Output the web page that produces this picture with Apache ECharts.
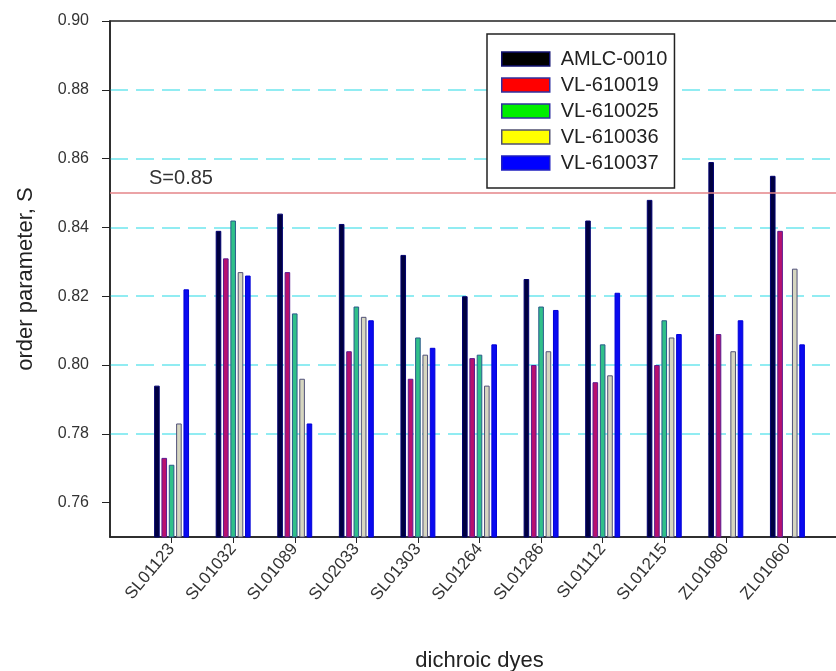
<!DOCTYPE html>
<html><head><meta charset="utf-8">
<script src="https://cdn.jsdelivr.net/npm/echarts@6/dist/echarts.min.js"></script>
<style>html,body{margin:0;padding:0;background:#fff}#c{width:836px;height:671px}</style>
</head><body><div id="c"></div>
<script>
const dyes = ['SL01123','SL01032','SL01089','SL02033','SL01303','SL01264','SL01286','SL01112','SL01215','ZL01080','ZL01060'];
const seriesNames = ['AMLC-0010','VL-610019','VL-610025','VL-610036','VL-610037'];
const amlc0010 = [0.794,0.839,0.844,0.841,0.832,0.820,0.825,0.842,0.848,0.859,0.855];
const vl610019 = [0.773,0.831,0.827,0.804,0.796,0.802,0.800,0.795,0.800,0.809,0.839];
const vl610025 = [0.771,0.842,0.815,0.817,0.808,0.803,0.817,0.806,0.813,null,null];
const vl610036 = [0.783,0.827,0.796,0.814,0.803,0.794,0.804,0.797,0.808,0.804,0.828];
const vl610037 = [0.822,0.826,0.783,0.813,0.805,0.806,0.816,0.821,0.809,0.813,0.806];
const yTicks = [0.76,0.78,0.80,0.82,0.84,0.86,0.88,0.90];
const yMin = 0.75, yMax = 0.90;
const threshold = 0.85;
const thresholdLabel = 'S=0.85';

// legend swatch colours (pure) and how the thin outlined bars appear
const legendFills = ['#000000','#ff0000','#00ee00','#ffff00','#0000ff'];
const legendBorders = ['#101070','#3030a0','#3030a0','#505070','#2020c0'];
const barFills = ['#000040','#b8106e','#30c08a','#d6d6c0','#0a0af0'];
const barBorders = ['#000070','#5a1a90','#2a5a8a','#505078','#0000d8'];
const allValues = [amlc0010, vl610019, vl610025, vl610036, vl610037];

const axisCats = [''].concat(dyes, ['']);
const pad = arr => [null].concat(arr, [null]);

const series = seriesNames.map((name, i) => {
  const s = {
    name: name,
    type: 'bar',
    data: pad(allValues[i]),
    barWidth: 5.6,
    barGap: '31%',
    itemStyle: { color: barFills[i], borderColor: barBorders[i], borderWidth: 1 }
  };
  if (i === 0) {
    s.markLine = {
      silent: true,
      symbol: 'none',
      data: [{ yAxis: threshold }],
      lineStyle: { color: '#e48488', type: 'solid', width: 1.5 },
      label: {
        show: true, position: 'insideStartTop', formatter: thresholdLabel,
        fontSize: 20, color: '#333',
        distance: [39, 5]
      }
    };
  }
  return s;
});

const chart = echarts.init(document.getElementById('c'), null, { renderer: 'canvas' });
chart.setOption({
  animation: false,
  backgroundColor: '#fff',
  textStyle: { fontFamily: 'Liberation Sans, Arial, sans-serif' },
  grid: {
    left: 110, top: 21, right: -13, bottom: 134,
    outerBoundsMode: 'none', containLabel: false,
    show: true, borderColor: '#222', borderWidth: 1.5, backgroundColor: 'transparent'
  },
  legend: {
    orient: 'vertical', left: 487, top: 34,
    data: seriesNames.map((n, i) => ({ name: n, itemStyle: { color: legendFills[i], borderColor: legendBorders[i], borderWidth: 1.5 } })),
    icon: 'rect', itemWidth: 48, itemHeight: 14, itemGap: 6,
    padding: [15, 7, 15, 14],
    borderColor: '#222', borderWidth: 1.5, backgroundColor: '#fff',
    textStyle: { fontSize: 20, lineHeight: 20, color: '#222', padding: [0, 0, 0, 6] }
  },
  xAxis: {
    type: 'category', data: axisCats, boundaryGap: false,
    axisLine: { lineStyle: { color: '#222', width: 1.5 } },
    axisTick: { show: true, length: 6, lineStyle: { color: '#222' }, interval: (i) => i > 0 && i <= dyes.length },
    axisLabel: { interval: 0, rotate: 50, fontSize: 17, color: '#333', margin: 9 },
    splitLine: { show: false },
    name: 'dichroic dyes', nameLocation: 'middle', nameGap: 113,
    nameTextStyle: { fontSize: 22, color: '#222' }
  },
  yAxis: {
    type: 'value', min: yMin, max: yMax, splitNumber: 7, minInterval: 0.02, maxInterval: 0.02,
    axisLine: { show: true, lineStyle: { color: '#222', width: 1.5 } },
    axisTick: { show: true, length: 8, lineStyle: { color: '#222' }, customValues: yTicks },
    axisLabel: {
      fontSize: 16, color: '#333', margin: 21, customValues: yTicks,
      formatter: v => (v > 0.755 ? v.toFixed(2) : '')
    },
    splitLine: { show: true, showMinLine: false, showMaxLine: false, lineStyle: { color: '#6ee6ee', type: [18, 8], width: 1.5 } },
    name: 'order parameter, S', nameLocation: 'middle', nameGap: 73,
    nameTextStyle: { fontSize: 22, color: '#222' }
  },
  series: series
});
</script>
</body></html>
